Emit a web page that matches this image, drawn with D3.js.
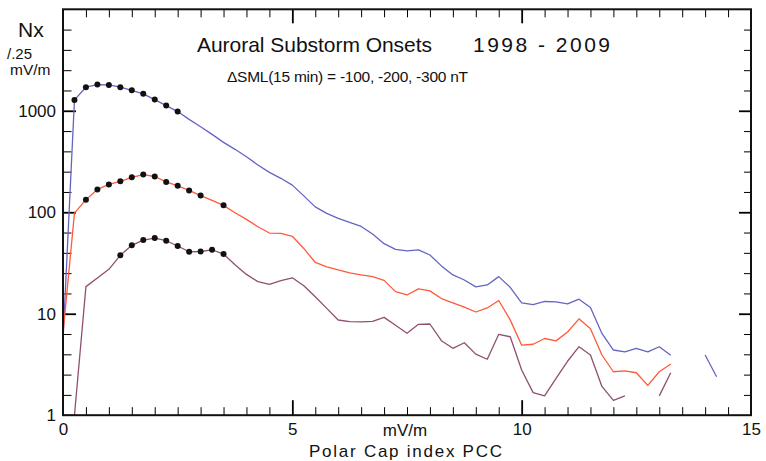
<!DOCTYPE html>
<html>
<head>
<meta charset="utf-8">
<script src="https://cdn.jsdelivr.net/npm/d3@7"></script>
<style>
  html, body { margin: 0; padding: 0; background: #fff; }
  svg { display: block; font-family: "Liberation Sans", Arial, sans-serif; }
</style>
</head>
<body>
<svg id="chart" width="766" height="461"></svg>
<script>
// ---- data ----
const pcc = [0, 0.25, 0.5, 0.75, 1, 1.25, 1.5, 1.75, 2, 2.25, 2.5, 2.75, 3, 3.25, 3.5, 3.75,
  4, 4.25, 4.5, 4.75, 5, 5.25, 5.5, 5.75, 6, 6.25, 6.5, 6.75, 7, 7.25, 7.5, 7.75,
  8, 8.25, 8.5, 8.75, 9, 9.25, 9.5, 9.75, 10, 10.25, 10.5, 10.75, 11, 11.25, 11.5, 11.75,
  12, 12.25, 12.5, 12.75, 13, 13.25, 13.5, 13.75, 14, 14.25];

const n100 = [5.5, 1280, 1706, 1812, 1798, 1706, 1592, 1468, 1289, 1125, 982, 823, 696, 585, 488, 417,
  352, 292, 247, 216, 185, 145, 113, 97.5, 87, 79.5, 72.5, 61, 49, 43, 41.6, 42.5,
  37.9, 29.6, 24.1, 21.5, 18.4, 19.2, 23.2, 18.2, 12.8, 12.3, 13.2, 13.1, 12.5, 13.9, 11.5, 6.4,
  4.39, 4.2, 4.56, 4.2, 4.73, 3.89, null, null, 3.92, 2.39];

const n200 = [6.4, 98, 133, 168, 188, 202, 221, 235, 225, 199, 182, 164, 146, 131, 117, 99,
  85, 72, 62.4, 62, 58, 44, 32, 29, 27, 25.3, 24.1, 23.2, 21.3, 16.5, 15.3, 17.6,
  16.8, 14.1, 12.8, 11.6, 10.4, 11.4, 13.5, 8.7, 4.9, 5.0, 5.7, 5.4, 6.6, 8.9, 7.1, 3.92,
  2.68, 2.74, 2.62, 1.97, 2.68, 3.19, null, null, null, null];

const n300 = [1, 1, 18.5, 22.5, 27.4, 37.6, 47.2, 53.2, 55.7, 52.4, 46.5, 40.8, 41, 42.7, 38.7, 30.4,
  24.4, 20.7, 19.5, 21.2, 22.6, 18.9, 14.7, 11.3, 8.67, 8.34, 8.3, 8.4, 9.2, 7.7, 6.41, 7.87,
  7.92, 5.42, 4.56, 5.18, 4.0, 3.56, 6.27, 5.93, 2.79, 1.67, 1.55, 2.31, 3.4, 4.73, 3.92, 1.92,
  1.4, 1.55, null, null, 1.55, 2.62, null, null, null, null];

const dots100 = [0.25, 0.5, 0.75, 1, 1.25, 1.5, 1.75, 2, 2.25, 2.5];
const dots200 = [0.5, 0.75, 1, 1.25, 1.5, 1.75, 2, 2.25, 2.5, 2.75, 3, 3.5];
const dots300 = [1.25, 1.5, 1.75, 2, 2.25, 2.5, 2.75, 3, 3.25, 3.5];

const xMajorTicks = [0, 5, 10, 15];
const xTickLabels = ["0", "5", "10", "15"];
const xMinorTicks = [0.5, 1, 1.5, 2, 2.5, 3, 3.5, 4, 4.5, 5.5, 6, 6.5, 7, 7.5, 8, 8.5, 9, 9.5,
  10.5, 11, 11.5, 12, 12.5, 13, 13.5, 14, 14.5];
const yMajorTicks = [1, 10, 100, 1000, 10000];
const yTickLabels = ["1", "10", "100", "1000"];
const yMinorSteps = [0.2, 0.4, 0.6, 0.8];

// ---- layout ----
const svg = d3.select("#chart");
const L = 63, R = 751, T = 9.3, B = 415.2;
const x = d3.scaleLinear().domain([0, 15]).range([L, R]);
const y = d3.scaleLog().domain([1, 10000]).range([B, T]).clamp(true);

const yMinorTicks = [];
[1, 10, 100, 1000].forEach(d => yMinorSteps.forEach(s => yMinorTicks.push(d * Math.pow(10, s))));

// ---- axes / ticks ----
function tickAxis(axis, transform, vals, size) {
  const g = svg.append("g").attr("transform", transform)
    .call(axis.tickValues(vals).tickSize(size).tickFormat(""));
  g.select(".domain").remove();
  g.selectAll(".tick line").attr("stroke", "#000");
  return g;
}
tickAxis(d3.axisLeft(y), `translate(${L},0)`, yMajorTicks.slice(1, 4), -13).selectAll("line").attr("stroke-width", 1.8);
tickAxis(d3.axisLeft(y), `translate(${L},0)`, yMinorTicks, -8.5).selectAll("line").attr("stroke-width", 1);
tickAxis(d3.axisRight(y), `translate(${R},0)`, yMajorTicks.slice(1, 4), -12).selectAll("line").attr("stroke-width", 1.8);
tickAxis(d3.axisRight(y), `translate(${R},0)`, yMinorTicks, -7).selectAll("line").attr("stroke-width", 1);
tickAxis(d3.axisBottom(x), `translate(0,${B})`, [5, 10], -15).selectAll("line").attr("stroke-width", 1.8);
tickAxis(d3.axisBottom(x), `translate(0,${B})`, xMinorTicks, -8).selectAll("line").attr("stroke-width", 1);
tickAxis(d3.axisTop(x), `translate(0,${T})`, [5, 10], -14).selectAll("line").attr("stroke-width", 1.8);
tickAxis(d3.axisTop(x), `translate(0,${T})`, xMinorTicks, -8).selectAll("line").attr("stroke-width", 1);

const yl = svg.append("g").attr("transform", `translate(${L},0)`)
  .call(d3.axisLeft(y).tickValues(yMajorTicks.slice(0, 4)).tickSize(0).tickPadding(7)
    .tickFormat((d, i) => yTickLabels[i]));
yl.select(".domain").remove();
yl.selectAll("text").attr("font-size", 17).attr("fill", "#111").attr("font-family", "Liberation Sans, Arial, sans-serif");

const xl = svg.append("g").attr("transform", `translate(0,${B})`)
  .call(d3.axisBottom(x).tickValues(xMajorTicks).tickSize(0).tickPadding(8)
    .tickFormat((d, i) => xTickLabels[i]));
xl.select(".domain").remove();
xl.selectAll("text").attr("font-size", 17).attr("fill", "#111").attr("font-family", "Liberation Sans, Arial, sans-serif");

// ---- series ----
const series = [
  { vals: n100, dots: dots100, color: "#6464c4" },
  { vals: n200, dots: dots200, color: "#ff5a3a" },
  { vals: n300, dots: dots300, color: "#8e5070" }
];
const line = d3.line()
  .defined(d => d.v != null)
  .x(d => x(d.x)).y(d => y(d.v));

series.forEach(s => {
  const pts = pcc.map((p, i) => ({ x: p, v: s.vals[i] }));
  svg.append("path").datum(pts)
    .attr("d", line).attr("fill", "none")
    .attr("stroke", s.color).attr("stroke-width", 1.3).attr("stroke-linejoin", "round");
});
series.forEach(s => {
  const pts = s.dots.map(p => ({ x: p, v: s.vals[pcc.indexOf(p)] }));
  svg.append("g").selectAll("circle").data(pts).join("circle")
    .attr("cx", d => x(d.x)).attr("cy", d => y(d.v)).attr("r", 3).attr("fill", "#111");
});

svg.append("rect").attr("x", L).attr("y", T).attr("width", R - L).attr("height", B - T)
  .attr("fill", "none").attr("stroke", "#111").attr("stroke-width", 2);

// ---- texts ----
function txt(str, tx, ty, size, opts = {}) {
  const t = svg.append("text").attr("x", tx).attr("y", ty).attr("font-size", size)
    .attr("fill", "#111").attr("xml:space", "preserve").style("white-space", "pre").text(str);
  if (opts.anchor) t.attr("text-anchor", opts.anchor);
  if (opts.len) t.attr("textLength", opts.len).attr("lengthAdjust", "spacing");
  return t;
}
txt("Nx", 18, 37, 21);
txt("/.25", 7, 58.5, 15);
txt("mV/m", 10, 75, 15.5);
txt("Auroral Substorm Onsets", 197, 52, 21, { len: 235 });
txt("1998 - 2009", 473, 52, 21, { len: 137 });
txt("\u0394SML(15 min) = -100, -200, -300 nT", 227, 82, 15.5, { len: 241 });
txt("mV/m", 405, 436, 17, { anchor: "middle" });
txt("Polar Cap index PCC", 309, 457, 17, { len: 193 });
</script>
</body>
</html>
